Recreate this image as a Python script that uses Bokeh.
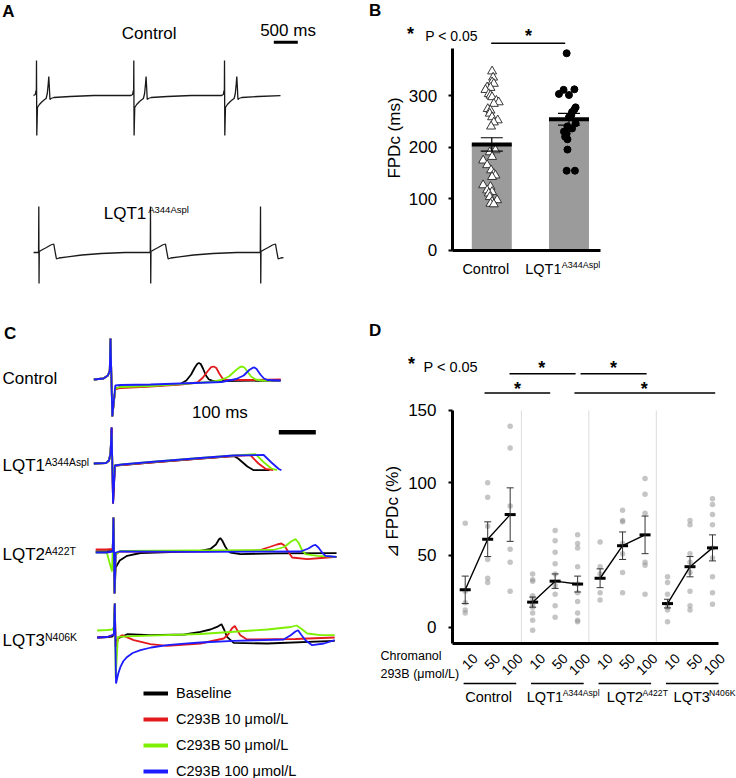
import numpy as np
from math import pi
from bokeh.plotting import figure
from bokeh.models import (Range1d, Label, FixedTicker, Whisker, TeeHead,
                          ColumnDataSource, Legend, LegendItem)
from bokeh.layouts import row, column
from bokeh.embed import file_html
from bokeh.resources import INLINE

FONT = "Liberation Sans"
FS = 17

# ---------------- Panel A: one-beat templates (time ms, amplitude a.u.) ----------------
a_ctrl_t = [-60, -25, -10, -3, 0, 6, 20, 60, 120, 170, 200, 225, 245, 256, 268, 280, 300, 360, 700, 1200, 1900]
a_ctrl_v = [0, 1, 5, 5, 35, -40, -12, -9, -6, -4, -3, 2, 12, 19, 8, -4, -3, -2, -1, 0, 0]
a_ctrl_beats = [0, 2027, 3917]
a_ctrl_span = [-62, 5083]
a_lqt1_t = [-60, -5, 0, 5, 10, 80, 160, 250, 312, 335, 368, 420, 600, 900, 1300, 1800]
a_lqt1_v = [0, 0, 46, -31, 1, 3, 5, 7.5, 8.5, 2, -6.5, -5.5, -4.3, -2.5, -1, 0]
a_lqt1_beats = [48, 2375, 4667]
a_lqt1_span = [-62, 5146]
a_scale_ms = 500

# ---------------- Panel B: FPDc (ms) ----------------
b_groups = ["Control", "LQT1"]
b_mean = [205, 254]
b_sem = [13, 11.5]
b_ctrl_vals = [347, 335, 326, 323, 316, 315, 311, 303, 300, 297, 290, 287, 284, 274, 271, 265, 258, 252, 248, 240,
               194, 190, 181, 174, 165, 155, 148, 145, 142, 126, 123, 116, 113, 110, 103, 97, 94, 90, 89]
b_ctrl_jit = [0.004, 0.017, 0.004, 0.026, -0.06, -0.017, -0.082, -0.039, -0.017, 0.004, 0.06, 0.09, 0.026, -0.052,
              -0.017, -0.026, 0.004, 0.077, 0.026, -0.009, 0.047, -0.026, 0.004, -0.112, -0.06, -0.009, 0.026, 0.047,
              0.004, -0.112, -0.017, -0.06, 0.004, -0.039, -0.026, 0.069, 0.004, -0.017, 0.026]
b_lqt1_vals = [382, 312, 311, 303, 301, 277, 273, 268, 262, 258, 246, 240, 236, 230, 226, 220, 215, 195, 154, 154]
b_lqt1_jit = [-0.03, 0.07, -0.07, -0.13, 0.0, 0.086, 0.07, 0.04, 0.03, 0.0, 0.086, -0.02, 0.04, -0.065, -0.03,
              -0.05, -0.02, -0.02, -0.03, 0.077]
b_yticks = [0, 100, 200, 300]

# ---------------- Panel C: field potential traces (time ms, amplitude a.u.) ----------------
c_colors = ["#000000", "#e3191c", "#7cf000", "#1c1cff"]
c_labels = ["Baseline", "C293B 10 \u03bcmol/L", "C293B 50 \u03bcmol/L", "C293B 100 \u03bcmol/L"]
c_ctrl = [
    ([-45, -19, -7, -2, 0, 5, 13, 27, 108, 189, 205, 218, 228, 235, 239, 244, 250, 258, 266, 275, 300, 460],
     [0, 1, 4, 9, 41, -37, -9, -7.5, -6.5, -4.5, -1, 5, 12, 15.8, 16.5, 15.5, 11, 4, 0, -1.2, -1.5, -1]),
    ([-45, -19, -7, -2, 0, 5, 13, 27, 108, 189, 235, 250, 262, 272, 279, 286, 294, 302, 310, 380, 460],
     [0, 1, 4, 9, 41, -37, -10, -8.5, -7, -5, -3, 2, 8, 12.3, 13, 11.5, 6, 1.5, -0.5, -0.5, 0]),
    ([-45, -19, -7, -2, 0, 5, 13, 27, 108, 189, 270, 300, 320, 338, 350, 356, 362, 370, 380, 392, 410, 435],
     [0, 1, 4, 9, 41, -37, -9, -7.5, -6.5, -4.5, -2.5, -0.5, 3, 9, 12.5, 13, 12, 8, 3, 0, -1, -1]),
    ([-45, -19, -7, -2, 0, 5, 13, 27, 108, 189, 300, 340, 360, 375, 385, 389, 395, 405, 415, 424, 460],
     [0, 1, 4, 9, 41, -37, -6, -5.5, -5, -4, -2.5, 0.5, 4, 9.5, 11.8, 12, 10.5, 5, 1, -0.5, -1]),
]
c_lqt1 = [
    ([-45, -12, -4, 0, 3, 7, 12, 30, 108, 243, 333, 345, 370, 387, 430],
     [0, 0.5, 3, 10, 36, -40, -2, -1.5, 1, 5, 7.5, 5, -3, -6.7, -6.7]),
    ([-45, -12, -4, 0, 3, 7, 12, 30, 108, 243, 333, 378, 400, 420, 440],
     [0, 0.5, 3, 10, 36, -40, -2, -1.5, 1, 5, 7.5, 8.3, 0, -5.5, -6.7]),
    ([-45, -12, -4, 0, 3, 7, 12, 30, 108, 243, 333, 392, 415, 435, 450],
     [0, 0.5, 3, 10, 30, -25, -2, -1, 1.5, 5.5, 8, 9.3, 1, -5, -6.7]),
    ([-45, -12, -4, 0, 3, 7, 12, 30, 108, 243, 333, 414, 435, 455, 462],
     [0, 0.5, 3, 10, 36, -40, -2, -1, 1.5, 5.5, 8, 8.5, 1, -5.5, -6.7]),
]
c_lqt2 = [
    ([-40, -10, 6, 8, 11, 14, 25, 45, 81, 243, 270, 285, 293, 297, 302, 310, 318, 324, 351, 450, 611],
     [0, 0, 0.5, 34, -42, -16, -9, -4.3, -1.5, 0.5, 2.5, 7, 12, 13.4, 11, 5, 0.5, -1, -2.6, -1.8, -1.6]),
    ([-40, -10, 6, 8, 11, 14, 25, 81, 243, 400, 430, 450, 462, 470, 480, 491, 532, 570, 611],
     [2, 2, 2.5, 34, -42, -3, 0, 0, 0, 1, 4.5, 7, 8, 6, 0, -6, -7.6, -6.5, -5.3]),
    ([-40, -10, 4, 6, 8, 11, 14, 25, 243, 440, 470, 488, 500, 508, 517, 527, 559, 611],
     [-1, -1, -20, 0.5, 34, -42, -3, 0.5, 1, 1.5, 4.5, 10, 12.4, 9, 2, -2.6, -4.3, -5.3]),
    ([-40, -10, 6, 8, 11, 14, 25, 243, 514, 535, 548, 554, 562, 572, 581, 600, 611],
     [-1, -1, 0, 34, -42, -1, 0, -0.3, 0, 3, 6, 6.7, 4, -1, -4.3, -5, -5.3]),
]
c_lqt3 = [
    ([-36, -8, 5, 9, 11.6, 14, 20, 45, 108, 200, 243, 270, 288, 300, 307, 315, 333, 424, 606],
     [0, 0.5, 1, 3, 34, -9.5, -1, 3.3, 2.3, 3, 5.6, 8, 10.6, 13.3, 8, 0.6, -5.4, -6, -3.4]),
    ([-36, -8, 9, 11.6, 14, 22, 31, 63, 108, 153, 243, 306, 318, 328, 336, 343, 351, 369, 500, 606],
     [0, 0.5, 3, 34, -9.5, 0, 2.3, -2.7, -6.7, -8.4, -6, -1, 3, 9, 11.6, 7, 2.3, -2, -1.5, 0]),
    ([-36, -8, 5, 9, 11.6, 14, 20, 63, 243, 424, 487, 503, 515, 532, 568, 606],
     [7, 7.5, 8, 10, 34, -40, 0.6, 1.3, 3.5, 8, 10.5, 12, 9, 4, 2.3, 2.3]),
    ([-36, -8, 9, 11.6, 15, 21, 27, 35, 45, 60, 81, 110, 153, 200, 243, 333, 468, 487, 500, 507, 515, 527, 545, 577, 606],
     [0, 0.5, 3, 34, -46, -36, -29.4, -23.5, -19.4, -15.5, -12.7, -10, -7.7, -6.2, -5, -3.4, -2, 2.3, 6, 7.3, 3, -2.7,
      -7.7, -6, -2.7]),
]
c_scale_ms = 100

# ---------------- Panel D: delta FPDc (%) ----------------
d_groups = ["Control", "LQT1", "LQT2", "LQT3"]
d_doses = ["10", "50", "100"]
d_mean = [26, 61, 78, 17.5, 32, 30, 34, 56.5, 64, 16.5, 42, 55]
d_sem = [9.5, 12, 18.5, 3.5, 5, 5.5, 6.5, 9.5, 13, 3, 7, 9]
d_pts_ctrl = [[72, 25, 17, 12, 10], [100, 90, 70, 47, 34, 31], [139, 124, 84, 54, 45, 25]]
d_pts_lqt1 = [[37, 33, 32, 22, 20, 16, 14, 10, 5, -2], [67, 60, 52, 44, 37, 29, 23, 15, 7],
              [64, 58, 55, 42, 30, 24, 18, 10, 5, 4]]
d_pts_lqt2 = [[59, 42, 37, 24, 19], [81, 74, 73, 58, 51, 38, 24], [103, 92, 79, 45, 43, 23]]
d_pts_lqt3 = [[35, 31, 23, 16, 14, 12, 4], [74, 71, 51, 45, 38, 25, 15, 12], [89, 85, 78, 71, 55, 48, 35, 24, 16]]
d_yticks = [0, 50, 100, 150]


def lab(p, x, y, text, size, align="left", baseline="middle", bold=False, angle=0.0):
    p.add_layout(Label(x=x, y=y, text=text, text_font=FONT, text_font_size=f"{size}px",
                       text_align=align, text_baseline=baseline, angle=angle,
                       text_font_style="bold" if bold else "normal", text_color="black"))


def base_fig(w, h, xr, yr, axes):
    kw = {} if axes else dict(x_axis_location=None, y_axis_location=None)
    p = figure(width=w, height=h, x_range=Range1d(*xr), y_range=Range1d(*yr),
               output_backend="svg", toolbar_location=None, min_border=0, **kw)
    p.outline_line_color = None
    p.grid.visible = False
    p.background_fill_color = "white"
    p.border_fill_color = "white"
    return p


def style_axis(ax, standoff):
    ax.axis_line_width = 3
    ax.axis_line_color = "black"
    ax.major_tick_line_width = 2
    ax.major_tick_line_color = "black"
    ax.major_tick_out = 4
    ax.major_tick_in = 0
    ax.minor_tick_line_color = None
    ax.major_label_text_font = FONT
    ax.major_label_text_font_size = f"{FS}px"
    ax.major_label_text_color = "black"
    ax.major_label_standoff = standoff


def compose(tt, vv, beats, span):
    xs, ys = [], []
    for k, b in enumerate(beats):
        lim = beats[k + 1] + tt[0] if k + 1 < len(beats) else np.inf
        for t, v in zip(tt, vv):
            if b + t < lim:
                xs.append(b + t)
                ys.append(v)
    xs = np.array(xs, float)
    ys = np.array(ys, float)
    t0, t1 = span
    grid = np.array([t0] + [x for x in xs if t0 < x < t1] + [t1], float)
    return grid, np.interp(grid, xs, ys)


# ======================= Panel A =======================
pA = base_fig(368, 290, (-750.0, 6916.7), (-290.0, 0.0), False)
for tt, vv, beats, span, y0 in [(a_ctrl_t, a_ctrl_v, a_ctrl_beats, a_ctrl_span, -95),
                                (a_lqt1_t, a_lqt1_v, a_lqt1_beats, a_lqt1_span, -252)]:
    x, v = compose(tt, vv, beats, span)
    pA.line(x, y0 + v, line_color="#1a1a1a", line_width=1.3)
a_bar_x0 = 4944
pA.line([a_bar_x0, a_bar_x0 + a_scale_ms], [-41.7, -41.7], line_color="black", line_width=3)
lab(pA, -712, -11, "A", FS, bold=True)
lab(pA, 2348, -32.7, "Control", FS, align="center")
lab(pA, 5240, -30, "500 ms", FS, align="center")
lab(pA, 1402, -213.3, "LQT1", FS)
lab(pA, 2327, -208.7, "A344Aspl", 9.5)

# ======================= Panel B =======================
pB = base_fig(368, 290, (-0.597, 4.170), (-78.6, 484.5), True)
style_axis(pB.yaxis[0], 11)
style_axis(pB.xaxis[0], 10)
b_x0, b_x1 = 0.487, 2.412
pB.yaxis.ticker = FixedTicker(ticks=b_yticks)
pB.yaxis.fixed_location = b_x0
pB.yaxis.bounds = (0, 390.7)
pB.xaxis.ticker = FixedTicker(ticks=[])
pB.xaxis.fixed_location = 0
pB.xaxis.bounds = (b_x0, b_x1)
b_x = [1, 2]
b_w = 0.518
pB.vbar(x=b_x, top=b_mean, width=b_w, fill_color="#9b9b9b", line_color=None)
pB.scatter([1 + j for j in b_ctrl_jit], b_ctrl_vals, marker="triangle", size=9,
           fill_color="white", line_color="#222222", line_width=0.9)
pB.scatter([2 + j for j in b_lqt1_jit], b_lqt1_vals, marker="circle", size=7,
           fill_color="black", line_color="black")
pB.segment(x0=[x - b_w / 2 for x in b_x], x1=[x + b_w / 2 for x in b_x], y0=b_mean, y1=b_mean,
           line_color="black", line_width=4)
srcB = ColumnDataSource(dict(x=b_x, lo=[m - s for m, s in zip(b_mean, b_sem)],
                             hi=[m + s for m, s in zip(b_mean, b_sem)]))
pB.add_layout(Whisker(source=srcB, base="x", upper="hi", lower="lo", level="annotation",
                      line_color="black", line_width=1.2,
                      upper_head=TeeHead(size=22, line_color="black", line_width=1.2),
                      lower_head=TeeHead(size=22, line_color="black", line_width=1.2)))
pB.line([0.992, 1.951], [401.6, 401.6], line_color="black", line_width=1.5)
lab(pB, -0.59, 465, "B", FS, bold=True)
lab(pB, -0.053, 420.4, "*", 18, align="center", bold=True)
lab(pB, 0.137, 416.5, "P < 0.05", 14)
lab(pB, 1.475, 414.6, "*", 18, align="center", bold=True)
lab(pB, -0.263, 217.5, "FPDc (ms)", FS, align="center", angle=pi / 2)
lab(pB, 0.922, -36.5, b_groups[0], 14.5, align="center")
lab(pB, 1.433, -36.5, "LQT1", 14.5)
lab(pB, 1.907, -28.7, "A344Aspl", 9)

# ======================= Panel C =======================
pC = base_fig(368, 488, (-297.3, 697.4), (-778.0, -290.0), False)
for traces, y0 in [(c_ctrl, -379), (c_lqt1, -463), (c_lqt2, -551), (c_lqt3, -637)]:
    for (tt, vv), col in zip(traces, c_colors):
        pC.line(tt, [y0 + v for v in vv], line_color=col, line_width=1.8)
c_bar_x0 = 455
pC.line([c_bar_x0, c_bar_x0 + c_scale_ms], [-431.7, -431.7], line_color="black", line_width=4.5)
lab(pC, -288, -333.3, "C", FS, bold=True)
lab(pC, -292, -378.3, "Control", FS)
lab(pC, -292, -465.3, "LQT1", FS)
lab(pC, -177, -462.0, "A344Aspl", 10.3)
lab(pC, -292, -554.0, "LQT2", FS)
lab(pC, -177, -550.7, "A422T", 10.5)
lab(pC, -292, -640.0, "LQT3", FS)
lab(pC, -177, -636.7, "N406K", 10.5)
lab(pC, 296, -411.7, "100 ms", FS, align="center")
items = []
for name, col in zip(c_labels, c_colors):
    r = pC.line(x=[np.nan], y=[np.nan], line_color=col, line_width=4)
    items.append(LegendItem(label=name, renderers=[r]))
legC = Legend(items=items, location=(143, -3), glyph_width=25, glyph_height=20, label_height=20,
              spacing=6, padding=0, margin=0, label_standoff=8, label_text_font=FONT,
              label_text_font_size="14.5px", label_text_color="black",
              border_line_color=None, background_fill_alpha=0)
pC.add_layout(legC)

# ======================= Panel D =======================
pD = base_fig(368, 488, (-4.302, 12.068), (-104.4, 232.9), True)
style_axis(pD.yaxis[0], 12)
style_axis(pD.xaxis[0], 10)
y_floor = -11.06
d_x0, d_x1 = -0.565, 11.268
pD.yaxis.ticker = FixedTicker(ticks=d_yticks)
pD.yaxis.fixed_location = d_x0
pD.yaxis.bounds = (y_floor, 150)
pD.xaxis.ticker = FixedTicker(ticks=[])
pD.xaxis.fixed_location = y_floor
pD.xaxis.bounds = (d_x0, d_x1)
n_d = len(d_doses)
seps = [(g + 1) * n_d - 0.5 for g in range(len(d_groups) - 1)]
pD.segment(x0=seps, x1=seps, y0=[y_floor] * len(seps), y1=[150] * len(seps), line_color="#dcdcdc", line_width=1)
px, py = [], []
for g, pts in enumerate([d_pts_ctrl, d_pts_lqt1, d_pts_lqt2, d_pts_lqt3]):
    for k, vals in enumerate(pts):
        px += [g * n_d + k] * len(vals)
        py += vals
pD.scatter(px, py, marker="circle", size=5.5, fill_color="#8c8c8c", fill_alpha=0.5, line_color=None)
xs = [g * n_d + k for g in range(len(d_groups)) for k in range(n_d)]
srcD = ColumnDataSource(dict(x=xs, lo=[m - s for m, s in zip(d_mean, d_sem)],
                             hi=[m + s for m, s in zip(d_mean, d_sem)]))
pD.add_layout(Whisker(source=srcD, base="x", upper="hi", lower="lo", level="glyph",
                      line_color="#333333", line_width=1,
                      upper_head=TeeHead(size=7, line_color="#333333", line_width=1),
                      lower_head=TeeHead(size=7, line_color="#333333", line_width=1)))
for g in range(len(d_groups)):
    pD.line(xs[g * n_d:(g + 1) * n_d], d_mean[g * n_d:(g + 1) * n_d], line_color="black", line_width=1.4)
pD.scatter(xs, d_mean, marker="dash", size=11, line_color="black", line_width=3)
# significance bars
pD.segment(x0=[1.97, 5.13, 0.86, 4.86], x1=[4.91, 8.07, 3.78, 11.12],
           y0=[175.4, 175.4, 162.0, 162.0], y1=[175.4, 175.4, 162.0, 162.0],
           line_color="black", line_width=1.5)
for sx, sy in [(3.40, 179.5), (6.60, 179.5), (2.33, 165.1), (7.96, 165.1)]:
    lab(pD, sx, sy, "*", 18, align="center", bold=True)
# group underlines
gc = [g * n_d + 1 + 0.1 for g in range(len(d_groups))]
pD.segment(x0=[c - 1.17 for c in gc], x1=[c + 1.17 for c in gc], y0=[-38.7] * 4, y1=[-38.7] * 4,
           line_color="black", line_width=1.5)
for i in xs:
    lab(pD, i + 0.445, -19.7, d_doses[i % n_d], 14, align="right", angle=pi / 4)
lab(pD, 1.04, -48.0, "Control", 14.5, align="center")
lab(pD, 2.74, -48.0, "LQT1", 14.5)
lab(pD, 4.34, -45.0, "A344Aspl", 8.6)
lab(pD, 6.30, -48.0, "LQT2", 14.5)
lab(pD, 7.89, -45.0, "A422T", 8.6)
lab(pD, 9.27, -48.0, "LQT3", 14.5)
lab(pD, 10.85, -45.0, "N406K", 8.6)
lab(pD, -3.77, -20.0, "Chromanol", 12.5)
lab(pD, -3.77, -32.5, "293B (\u03bcmol/L)", 12.5)
lab(pD, -3.225, 79.7, "\u22bf FPDc (%)", FS, align="center", angle=pi / 2)
lab(pD, -4.28, 205.3, "D", FS, bold=True)
lab(pD, -2.39, 182.4, "*", 18, align="center", bold=True)
lab(pD, -1.857, 179.9, "P < 0.05", 14.5)

layout = column(row(pA, pB), row(pC, pD))
open("out.html", "w").write(file_html(layout, INLINE, "Figure"))
